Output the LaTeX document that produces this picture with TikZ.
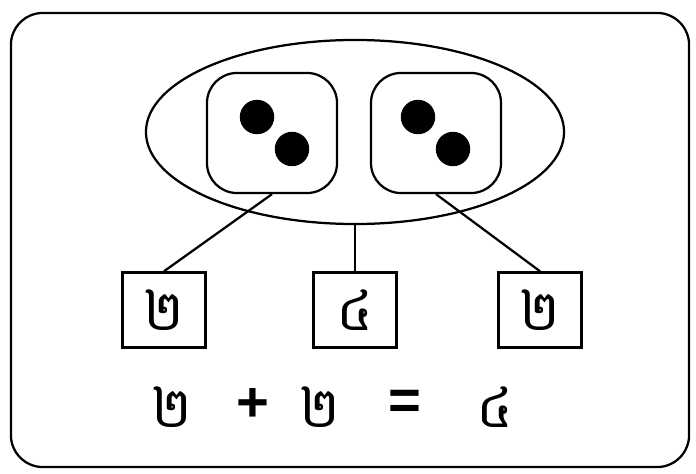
\documentclass[tikz,border=0pt]{standalone}
\usepackage{fontspec}
\newfontfamily\khmerfont[Script=Khmer]{Battambang}
\newfontfamily\symfont{Liberation Sans}
\usetikzlibrary{shapes.geometric}

\begin{document}
\begin{tikzpicture}[x=0.025cm, y=-0.025cm, line width=1.6pt,
    die/.style={draw, rounded corners=0.75cm, minimum width=3.25cm, minimum height=3cm},
    numbox/.style={draw, minimum width=2.08cm, minimum height=1.88cm, font=\khmerfont\fontsize{40}{42}\selectfont},
    eqn/.style={font=\khmerfont\fontsize{40}{42}\selectfont},
    sym/.style={font=\symfont\bfseries\fontsize{40}{42}\selectfont},
    pip/.style={circle, fill=black, inner sep=0pt, minimum size=0.86cm}]
  \useasboundingbox (0,0) rectangle (696,473);
  % outer frame
  \node[draw, rounded corners=0.8cm, minimum width=16.95cm, minimum height=11.35cm] (frame) at (350,240) {};
  % group of two dice
  \node[draw, ellipse, minimum width=10.45cm, minimum height=4.6cm] (grp) at (355,132) {};
  \node[die] (dieL) at (272,133) {};
  \node[die] (dieR) at (436,133) {};
  \foreach \d/\x in {L/257, R/418} {
    \node[pip] (pip\d1) at (\x,117) {};
    \node[pip] (pip\d2) at (\x+35,149) {};
  }
  % number boxes
  \node[numbox] (numL) at (164,310) {២};
  \node[numbox] (numM) at (355,310) {៤};
  \node[numbox] (numR) at (540,310) {២};
  \draw (dieL.south) -- (numL.north);
  \draw (grp.south) -- (numM.north);
  \draw (dieR.south) -- (numR.north);
  % equation
  \node[eqn] (a) at (172,407) {២};
  \node[sym] (plus) at (253,405) {+};
  \node[eqn] (b) at (320,407) {២};
  \node[sym] (eq) at (405,405) {=};
  \node[eqn] (c) at (495,407) {៤};
\end{tikzpicture}
\end{document}
